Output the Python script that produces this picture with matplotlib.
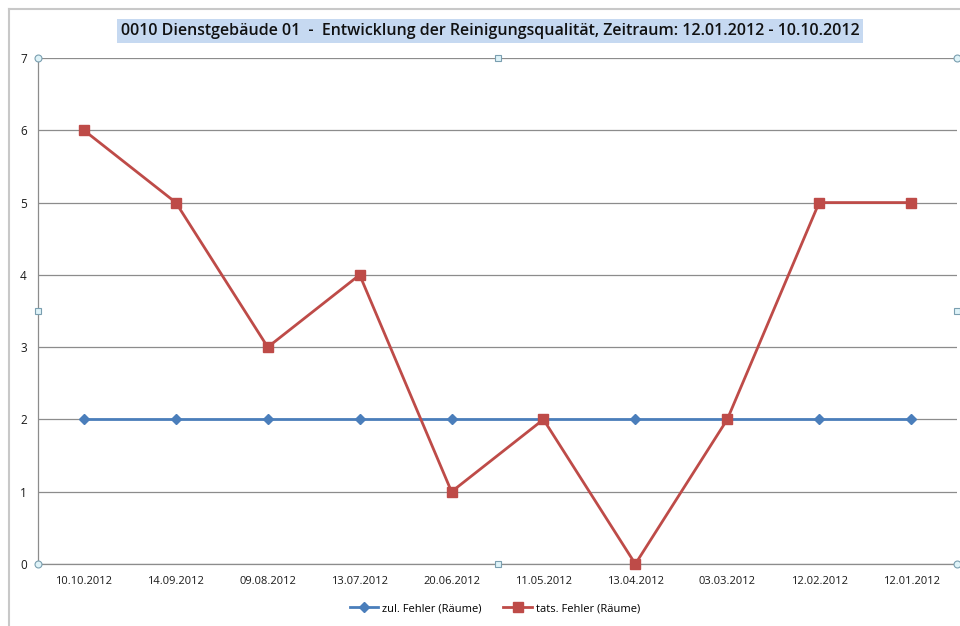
import matplotlib
matplotlib.use("Agg")
import matplotlib.pyplot as plt
from matplotlib.lines import Line2D

plt.rcParams['font.family'] = ['Open Sans', 'DejaVu Sans']

categories = ["10.10.2012", "14.09.2012", "09.08.2012", "13.07.2012", "20.06.2012",
              "11.05.2012", "13.04.2012", "03.03.2012", "12.02.2012", "12.01.2012"]
zul_fehler = [2, 2, 2, 2, 2, 2, 2, 2, 2, 2]
tats_fehler = [6, 5, 3, 4, 1, 2, 0, 2, 5, 5]
y_ticks = [0, 1, 2, 3, 4, 5, 6, 7]
title = "0010 Dienstgebäude 01  -  Entwicklung der Reinigungsqualität, Zeitraum: 12.01.2012 - 10.10.2012"

fig = plt.figure(figsize=(9.6, 6.26), dpi=100)
ax = fig.add_axes([38/960, 1-564/626, (957-38)/960, (564-58)/626])

x = list(range(len(categories)))
blue = "#4A7EBB"
red = "#BE4B48"
ax.plot(x, zul_fehler, color=blue, lw=2.0, marker="D", ms=5.5, label="zul. Fehler (Räume)", zorder=3)
ax.plot(x, tats_fehler, color=red, lw=2.0, marker="s", ms=7, label="tats. Fehler (Räume)", zorder=4, clip_on=False)

ax.set_xlim(-0.5, len(categories) - 0.5)
ax.set_ylim(0, 7)
ax.set_yticks(y_ticks)
ax.set_xticks(x)
ax.set_xticklabels(categories, fontsize=8)
ax.tick_params(axis='y', labelsize=8.5, length=0, pad=8)
ax.tick_params(axis='x', length=0, pad=9)
ax.grid(axis='y', color="#8c8c8c", lw=0.9)
ax.set_axisbelow(True)
for s in ["top", "right"]:
    ax.spines[s].set_visible(False)
ax.spines["left"].set_color("#8c8c8c")
ax.spines["bottom"].set_color("#8c8c8c")
ax.spines["left"].set_linewidth(0.9)
ax.spines["bottom"].set_linewidth(0.9)
for lab in ax.get_xticklabels() + ax.get_yticklabels():
    lab.set_color("#1a1a1a")

# selection handles on plot area
for (hx, hy, mk) in [(0, 0, 'o'), (1, 0, 'o'), (0, 1, 'o'), (1, 1, 'o'),
                     (0.5, 0, 's'), (0.5, 1, 's'), (0, 0.5, 's'), (1, 0.5, 's')]:
    ax.plot(hx, hy, marker=mk, ms=5 if mk == 'o' else 4, mfc="#dff3f8", mec="#7a9fb0",
            mew=0.8, transform=ax.transAxes, clip_on=False, zorder=6)

# title with highlight box
fig.text(490/960, 1-31/626, title, ha="center", va="center", fontsize=11.5,
         fontweight="semibold", color="#111111",
         bbox=dict(boxstyle="square,pad=0.25", fc="#C6D9F1", ec="none"))

# legend
leg = ax.legend(loc="upper center", bbox_to_anchor=(0.497, -0.058), ncol=2, frameon=False,
                fontsize=8, handlelength=2.6, columnspacing=2.0, handletextpad=0.3)

# outer frame
fig.add_artist(Line2D([9/960, 9/960], [0, 1-9/626], transform=fig.transFigure, color="#c8c8c8", lw=1.5))
fig.add_artist(Line2D([9/960, 1], [1-9/626, 1-9/626], transform=fig.transFigure, color="#c8c8c8", lw=1.5))

fig.savefig("out.png", dpi=100)
